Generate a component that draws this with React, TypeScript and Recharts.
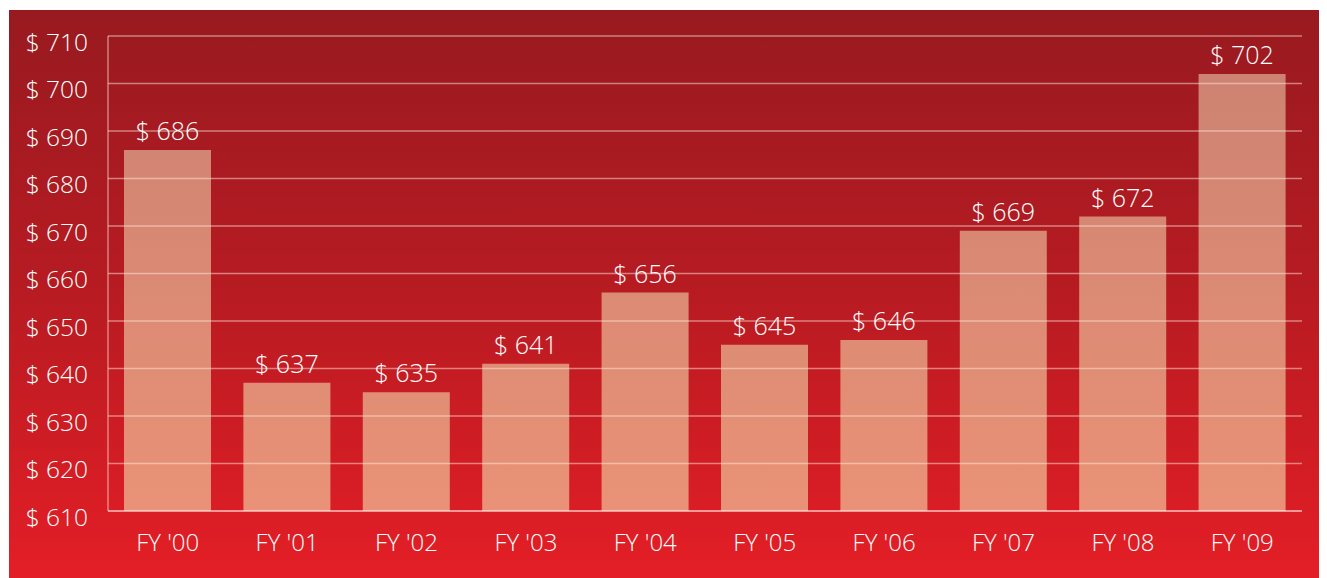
import { BarChart, Bar, XAxis, YAxis, ReferenceLine, LabelList } from "recharts";

const years = ["FY '00", "FY '01", "FY '02", "FY '03", "FY '04", "FY '05", "FY '06", "FY '07", "FY '08", "FY '09"];
const amounts = [686, 637, 635, 641, 656, 645, 646, 669, 672, 702];
const yTicks = [610, 620, 630, 640, 650, 660, 670, 680, 690, 700, 710];

const rows = years.map((year, i) => ({ year, amount: amounts[i] }));

const FONT = "'Open Sans', sans-serif";
const GRID = "rgba(255,232,220,0.5)";

const money = (v: number | string) => `$ ${v}`;

export default function App() {
  return (
    <div
      style={{
        marginLeft: 1,
        marginTop: 2,
        width: 1318,
        height: 568,
        background: "linear-gradient(to bottom, #981a20 0%, #b81b22 50%, #e41e26 100%)",
        fontFamily: FONT,
      }}>
      <BarChart
        width={1318}
        height={568}
        data={rows}
        margin={{ top: 26, right: 25, bottom: 0, left: 0 }}
        barSize={87}>
        <defs>
          <linearGradient id="barFill" gradientUnits="userSpaceOnUse" x1="0" y1="26" x2="0" y2="501">
            <stop offset="0%" stopColor="#cb8171" />
            <stop offset="100%" stopColor="#e99277" />
          </linearGradient>
        </defs>
        <XAxis
          dataKey="year"
          height={67}
          tickLine={false}
          tickSize={0}
          tickMargin={23}
          axisLine={{ stroke: "rgba(255,238,230,0.8)", strokeWidth: 1.5 }}
          tick={{ fill: "#fff", fontSize: 24, fontFamily: FONT, fontWeight: 300 }}
        />
        <YAxis
          width={99}
          domain={[610, 710]}
          ticks={yTicks}
          interval={0}
          tickLine={false}
          tickSize={0}
          tickMargin={20}
          axisLine={{ stroke: GRID, strokeWidth: 1.5 }}
          tickFormatter={money}
          tick={{ fill: "#fff", fontSize: 24.5, fontFamily: FONT, fontWeight: 300, dy: 6 }}
        />
        <Bar dataKey="amount" fill="url(#barFill)" isAnimationActive={false}>
          <LabelList
            dataKey="amount"
            position="top"
            offset={10}
            formatter={money}
            fill="#fff"
            fontSize={25}
            fontWeight={300}
            fontFamily={FONT}
          />
        </Bar>
        {yTicks.slice(1).map((t) => (
          <ReferenceLine key={t} y={t} stroke={GRID} strokeWidth={1.5} ifOverflow="extendDomain" />
        ))}
      </BarChart>
    </div>
  );
}
